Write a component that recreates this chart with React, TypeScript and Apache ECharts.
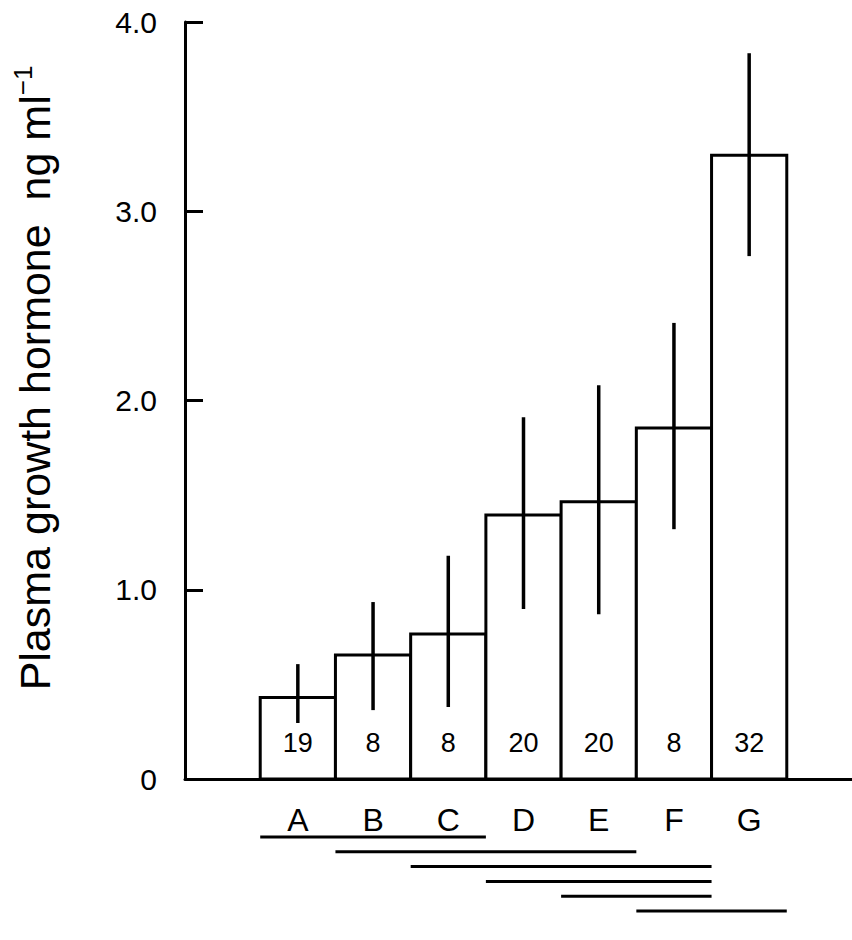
import React, { useEffect, useRef } from "react";
import * as echarts from "echarts";

// Treatment groups and their mean plasma GH levels (ng/ml)
const groups = ["A", "B", "C", "D", "E", "F", "G"];
const means = [0.43, 0.655, 0.766, 1.395, 1.465, 1.855, 3.296];
const errLow = [0.296, 0.364, 0.38, 0.898, 0.87, 1.32, 2.763];
const errHigh = [0.607, 0.935, 1.18, 1.912, 2.08, 2.41, 3.835];
const counts = [19, 8, 8, 20, 20, 8, 32];
// Groups joined by a common underline (first group, last group)
const sameGroups: [string, string][] = [
  ["A", "C"],
  ["B", "E"],
  ["C", "F"],
  ["D", "F"],
  ["E", "F"],
  ["F", "G"],
];
const yTicks = ["0", "1.0", "2.0", "3.0", "4.0"];

const FONT = "'Liberation Sans', Arial, Helvetica, sans-serif";

export default function App() {
  const ref = useRef<HTMLDivElement>(null);

  useEffect(() => {
    document.body.style.margin = "0";
    document.body.style.overflow = "hidden";
    if (!ref.current) return;
    const chart = echarts.init(ref.current, undefined, { renderer: "svg" });

    // one empty slot on each side of the groups; the last slot runs past the right edge
    const axisCats = ["", ...groups, ""];
    const barData = groups.map((_, i) => [i + 1, means[i], counts[i]]);
    const errData = groups.map((_, i) => [i + 1, errLow[i], errHigh[i]]);
    const lineData = sameGroups.map(([a, b], row) => [
      groups.indexOf(a) + 1,
      groups.indexOf(b) + 1,
      row,
    ]);

    chart.setOption({
      animation: false,
      backgroundColor: "#fff",
      grid: { left: 185, right: 0, top: 22, bottom: 161, containLabel: false },
      xAxis: {
        type: "category",
        data: axisCats,
        boundaryGap: true,
        axisLine: { lineStyle: { color: "#000", width: 3 } },
        axisTick: { show: false },
        axisLabel: {
          color: "#000",
          fontFamily: FONT,
          fontSize: 32,
          margin: 25,
          interval: 0,
        },
        splitLine: { show: false },
      },
      yAxis: {
        type: "value",
        min: 0,
        max: 4,
        interval: 1,
        axisLine: { show: true, lineStyle: { color: "#000", width: 3 } },
        axisTick: {
          show: true,
          inside: true,
          length: 18,
          lineStyle: { color: "#000", width: 3 },
        },
        axisLabel: {
          color: "#000",
          fontFamily: FONT,
          fontSize: 30,
          margin: 28,
          formatter: (v: number) => yTicks[Math.round(v)],
        },
        splitLine: { show: false },
      },
      graphic: [
        {
          type: "text",
          x: 33,
          y: 378,
          rotation: Math.PI / 2,
          style: {
            text: "{t|Plasma growth hormone  ng ml}{s|−1}",
            align: "center",
            verticalAlign: "middle",
            fill: "#000",
            rich: {
              t: { fontFamily: FONT, fontSize: 43, lineHeight: 47, fill: "#000", verticalAlign: "bottom" },
              s: { fontFamily: FONT, fontSize: 26, lineHeight: 47, fill: "#000", verticalAlign: "top" },
            },
          },
        },
      ],
      series: [
        {
          // open bars, each filling its whole category band, with the group size inside
          type: "custom",
          data: barData,
          encode: { x: 0, y: 1 },
          z: 2,
          renderItem: (params: any, api: any) => {
            const band = api.size([1, 0])[0];
            const top = api.coord([api.value(0), api.value(1)]);
            const base = api.coord([api.value(0), 0]);
            return {
              type: "group",
              children: [
                {
                  type: "rect",
                  shape: { x: top[0] - band / 2, y: top[1], width: band, height: base[1] - top[1] },
                  style: { fill: "#fff", stroke: "#000", lineWidth: 3 },
                },
                {
                  type: "text",
                  x: base[0],
                  y: base[1] - 36,
                  style: {
                    text: String(api.value(2)),
                    fontFamily: FONT,
                    fontSize: 27,
                    fill: "#000",
                    align: "center",
                    verticalAlign: "middle",
                  },
                },
              ],
            };
          },
        },
        {
          type: "custom",
          data: errData,
          encode: { x: 0, y: [1, 2] },
          z: 3,
          renderItem: (params: any, api: any) => {
            const lo = api.coord([api.value(0), api.value(1)]);
            const hi = api.coord([api.value(0), api.value(2)]);
            return {
              type: "line",
              shape: { x1: lo[0], y1: lo[1], x2: hi[0], y2: hi[1] },
              style: { stroke: "#000", lineWidth: 3.5 },
            };
          },
        },
        {
          type: "custom",
          data: lineData,
          encode: { x: [0, 1] },
          clip: false,
          z: 3,
          renderItem: (params: any, api: any) => {
            const band = api.size([1, 0])[0];
            const a = api.coord([api.value(0), 0]);
            const b = api.coord([api.value(1), 0]);
            const y = a[1] + 58 + api.value(2) * 14.8;
            return {
              type: "line",
              shape: { x1: a[0] - band / 2, y1: y, x2: b[0] + band / 2, y2: y },
              style: { stroke: "#000", lineWidth: 3 },
            };
          },
        },
      ],
    });

    return () => chart.dispose();
  }, []);

  return <div ref={ref} style={{ width: 862, height: 940 }} />;
}
